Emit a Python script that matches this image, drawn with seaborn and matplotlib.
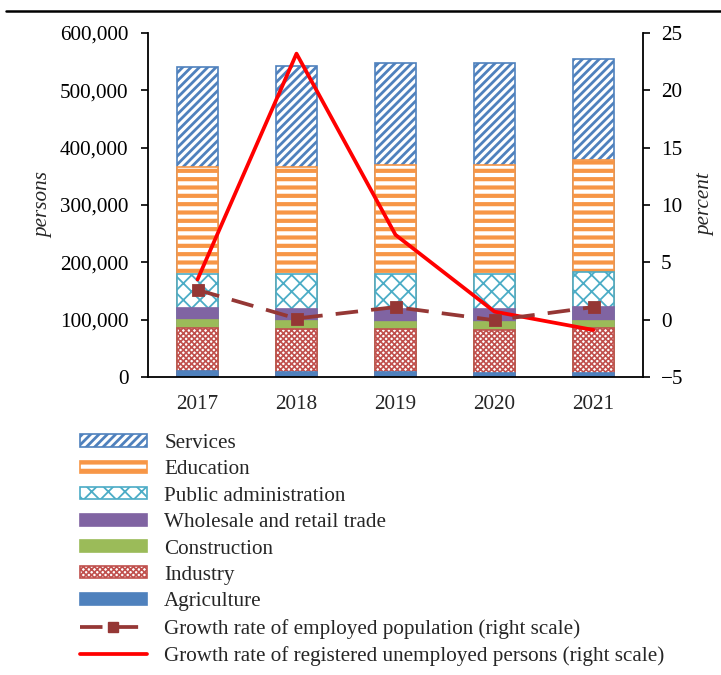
import numpy as np
import pandas as pd
import matplotlib
matplotlib.use("Agg")
import matplotlib.pyplot as plt
import seaborn as sns
from matplotlib.patches import Patch
from matplotlib.lines import Line2D
from matplotlib.ticker import FuncFormatter

years = ["2017", "2018", "2019", "2020", "2021"]
agriculture = [9600, 8000, 8000, 7500, 7000]
industry = [75000, 75000, 75000, 75000, 77600]
construction = [14000, 14000, 12700, 13500, 12800]
wholesale = [21400, 22000, 23300, 21800, 25100]
public_admin = [60000, 61000, 61000, 62200, 60500]
education = [187000, 187000, 190000, 190000, 195000]
services = [174000, 176000, 178000, 178000, 176000]
employed_growth = [2.6, 0.1, 1.1, -0.05, 1.1]
unemployed_growth = [3.5, 23.2, 7.4, 0.7, -0.9]

sns.set_theme(style="white")
plt.rcParams['font.family'] = ['Liberation Serif', 'DejaVu Serif']
FS = 15.2


def set_hlw(p, lw):
    if hasattr(p, "set_hatch_linewidth"):
        p.set_hatch_linewidth(lw)


fig = plt.figure(figsize=(7.21, 6.75), dpi=100)
ax = fig.add_axes([148/721, 1-377/675, (643-148)/721, (377-33)/675])

series = [
    ("Agriculture", agriculture, dict(facecolor="#4F81BD", edgecolor="#4F81BD", hatch=None, hlw=1.0)),
    ("Industry", industry, dict(facecolor="white", edgecolor="#C0504D", hatch="xxxxxx", hlw=1.2)),
    ("Construction", construction, dict(facecolor="#9BBB59", edgecolor="#9BBB59", hatch=None, hlw=1.0)),
    ("Wholesale and retail trade", wholesale, dict(facecolor="#8064A2", edgecolor="#8064A2", hatch=None, hlw=1.0)),
    ("Public administration", public_admin, dict(facecolor="white", edgecolor="#4BACC6", hatch="xx", hlw=1.3)),
    ("Education", education, dict(facecolor="white", edgecolor="#F79646", hatch="--", hlw=3.0)),
    ("Services", services, dict(facecolor="white", edgecolor="#4F81BD", hatch="////", hlw=2.0)),
]

cum = np.cumsum([s[1] for s in series], axis=0)
# draw tallest cumulative first so lower layers overlay it
for i in range(len(series) - 1, -1, -1):
    name, vals, st = series[i]
    df = pd.DataFrame({"year": years, "value": cum[i]})
    n_before = len(ax.patches)
    sns.barplot(data=df, x="year", y="value", ax=ax, width=0.41,
                color=st["facecolor"], saturation=1, errorbar=None)
    for p in ax.patches[n_before:]:
        p.set_facecolor(st["facecolor"])
        p.set_edgecolor(st["edgecolor"])
        p.set_linewidth(1.2)
        if st["hatch"]:
            p.set_hatch(st["hatch"])
            set_hlw(p, st["hlw"])

ax.set_ylim(0, 600000)
ax.set_yticks(np.arange(0, 600001, 100000))
ax.yaxis.set_major_formatter(FuncFormatter(lambda v, p: f"{int(v):,}"))
ax.set_xlabel("")
ax.set_ylabel("persons", fontsize=FS, style="italic", labelpad=5)
ax.tick_params(axis="y", which="both", left=True, direction="out", length=5, width=1.2, labelsize=FS, pad=9, colors="black")
ax.tick_params(axis="x", bottom=False, labelsize=FS, pad=7)
for s in ["top", "right"]:
    ax.spines[s].set_visible(False)
for s in ["left", "bottom"]:
    ax.spines[s].set_color("black")
    ax.spines[s].set_linewidth(1.3)

ax2 = ax.twinx()
line_df = pd.DataFrame({"year": years, "emp": employed_growth, "unemp": unemployed_growth})
sns.pointplot(data=line_df, x="year", y="unemp", ax=ax2, color="#FF0000", markers="", linestyles="-", errorbar=None)
sns.pointplot(data=line_df, x="year", y="emp", ax=ax2, color="#953735", markers="s", linestyles="--", errorbar=None)
ax2.lines[0].set_linewidth(2.7)
ax2.lines[0].set_marker("")
ax2.lines[1].set_linewidth(2.7)
ax2.lines[1].set_dashes([6, 3.5])
ax2.lines[1].set_markersize(7)
ax2.set_ylim(-5, 25)
ax2.set_yticks(np.arange(-5, 26, 5))
ax2.set_ylabel("percent", fontsize=FS, style="italic", labelpad=9)
ax2.tick_params(axis="y", right=True, direction="out", length=5, width=1.2, labelsize=FS, pad=8, colors="black")
for s in ["top", "left", "bottom"]:
    ax2.spines[s].set_visible(False)
ax2.spines["right"].set_color("black")
ax2.spines["right"].set_linewidth(1.3)
ax2.set_xlabel("")
ax2.grid(False)
ax.grid(False)
ax.set_xlim(-0.5, 4.5)
ax2.set_xlim(-0.5, 4.5)

# top rule
fig.add_artist(Line2D([6/721, 1.0], [1-11/675, 1-11/675], color="black", linewidth=1.8, transform=fig.transFigure))

handles = []
labels = []
for name, vals, st in reversed(series):
    h = Patch(facecolor=st["facecolor"], edgecolor=st["edgecolor"], hatch=st["hatch"], linewidth=1.2)
    if st["hatch"]:
        set_hlw(h, st["hlw"])
    handles.append(h)
    labels.append(name)
handles.append(Line2D([], [], color="#953735", linewidth=2.7, marker="s", markersize=7, dashes=[6, 3.5]))
labels.append("Growth rate of employed population (right scale)")
handles.append(Line2D([], [], color="#FF0000", linewidth=2.7))
labels.append("Growth rate of registered unemployed persons (right scale)")

leg = fig.legend(handles, labels, loc="upper left", bbox_to_anchor=(80/721, 1-434/675),
                 frameon=False, fontsize=FS, handlelength=3.15, handleheight=0.5,
                 handletextpad=0.84, labelspacing=0.35, borderpad=0, borderaxespad=0)
for lp, (name, vals, st) in zip(leg.get_patches(), list(reversed(series))):
    if st["hatch"]:
        set_hlw(lp, st["hlw"])

fig.savefig("out.png", dpi=100)
